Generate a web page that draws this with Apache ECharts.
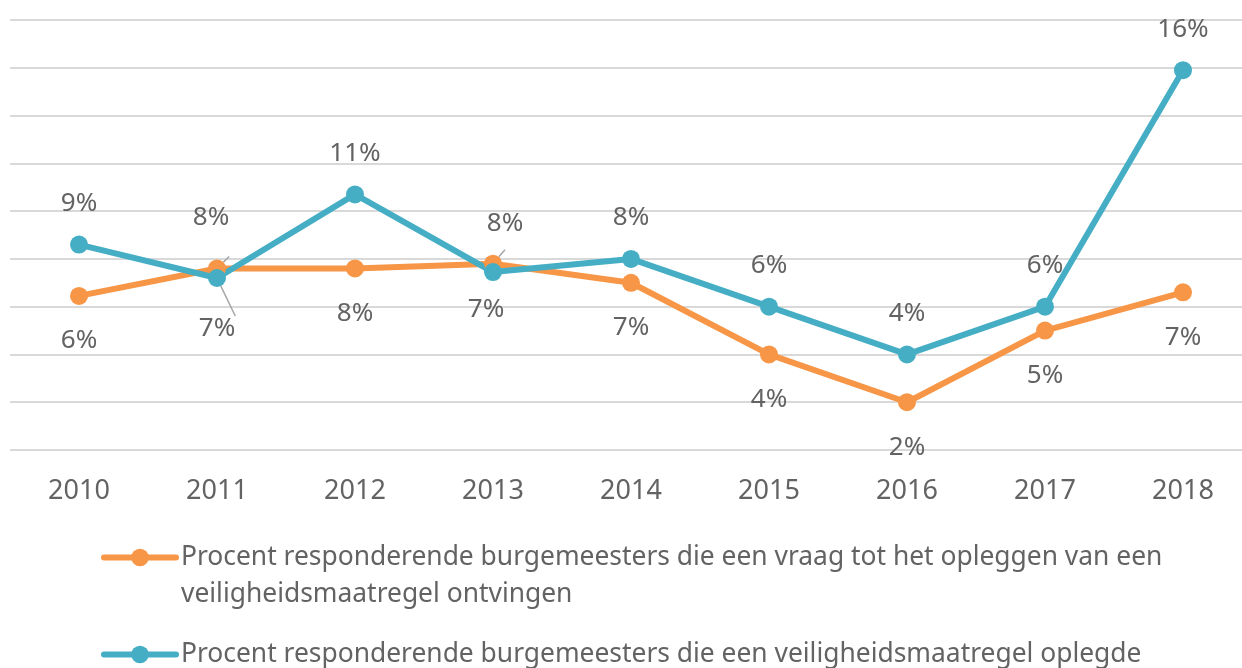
<!DOCTYPE html>
<html>
<head>
<meta charset="utf-8">
<script src="https://cdn.jsdelivr.net/npm/echarts@6/dist/echarts.min.js"></script>
<style>
html, body { margin: 0; padding: 0; background: #fff; }
#chart { width: 1242px; height: 668px; }
</style>
</head>
<body>
<div id="chart"></div>
<script>
const years = ['2010', '2011', '2012', '2013', '2014', '2015', '2016', '2017', '2018'];
const ontvangen = [6.45, 7.6, 7.6, 7.8, 7.0, 4.0, 2.0, 5.0, 6.6];
const opgelegd = [8.6, 7.2, 10.7, 7.45, 8.0, 6.0, 4.0, 6.0, 15.9];
const nameOntvangen = 'Procent responderende burgemeesters die een vraag tot het opleggen van een\nveiligheidsmaatregel ontvingen';
const nameOpgelegd = 'Procent responderende burgemeesters die een veiligheidsmaatregel oplegde';

const orange = '#F79646';
const teal = '#45AEC5';
const textColor = '#636363';
const font = 'Noto Sans';

// punten waar het label aan de andere kant staat, met hulplijntje
const leader = { show: true, lineStyle: { color: '#a6a6a6', width: 1.5 } };

function buildData(values, normalPos, normalDist, special) {
	return values.map((v, i) => {
		const item = { value: v };
		if (special[i]) {
			item.label = Object.assign({}, special[i].label);
			if (special[i].line) item.labelLine = leader;
		} else {
			item.label = { position: normalPos, distance: normalDist };
		}
		return item;
	});
}

const orangeData = buildData(ontvangen, 'bottom', 23, {
	1: { label: { position: 'top', distance: 29, offset: [-6, 0] }, line: true },
	3: { label: { position: 'top', distance: 18, offset: [12, 0] }, line: true }
});
const tealData = buildData(opgelegd, 'top', 19, {
	1: { label: { position: 'bottom', distance: 29 }, line: true },
	3: { label: { position: 'bottom', distance: 16, offset: [-7, 0] } }
});

const legendCommon = {
	orient: 'vertical',
	left: 101,
	padding: 0,
	itemWidth: 72,
	itemHeight: 22,
	lineStyle: { width: 6, cap: 'round' },
	textStyle: { color: textColor, fontSize: 26.4, lineHeight: 37, fontFamily: font }
};

const chart = echarts.init(document.getElementById('chart'));
chart.setOption({
	animation: false,
	textStyle: { fontFamily: font },
	grid: { left: 10, top: 20, width: 1242, bottom: 218, outerBoundsMode: 'none' },
	xAxis: {
		type: 'category',
		data: years,
		boundaryGap: true,
		axisLine: { show: false },
		axisTick: { show: false },
		axisLabel: { color: textColor, fontSize: 27, margin: 28, fontFamily: font }
	},
	yAxis: {
		type: 'value',
		min: 0,
		max: 18,
		interval: 2,
		axisLabel: { show: false },
		axisLine: { show: false },
		axisTick: { show: false },
		splitLine: { lineStyle: { color: '#d9d9d9', width: 2 } }
	},
	legend: [
		Object.assign({}, legendCommon, {
			data: [nameOntvangen],
			top: 502,
			// lege eerste regel zodat het icoon bij de eerste tekstregel staat
			formatter: name => '\n' + name
		}),
		Object.assign({}, legendCommon, {
			data: [nameOpgelegd],
			top: 636
		})
	],
	series: [
		{
			name: nameOntvangen,
			type: 'line',
			data: orangeData,
			symbol: 'circle',
			symbolSize: 18,
			color: orange,
			lineStyle: { width: 6, color: orange },
			itemStyle: { color: orange },
			label: {
				show: true,
				color: textColor,
				fontSize: 26,
				fontFamily: font,
				formatter: p => Math.round(p.value) + '%'
			}
		},
		{
			name: nameOpgelegd,
			type: 'line',
			data: tealData,
			symbol: 'circle',
			symbolSize: 18,
			color: teal,
			lineStyle: { width: 6, color: teal },
			itemStyle: { color: teal },
			label: {
				show: true,
				color: textColor,
				fontSize: 26,
				fontFamily: font,
				formatter: p => Math.round(p.value) + '%'
			}
		}
	]
});
</script>
</body>
</html>
